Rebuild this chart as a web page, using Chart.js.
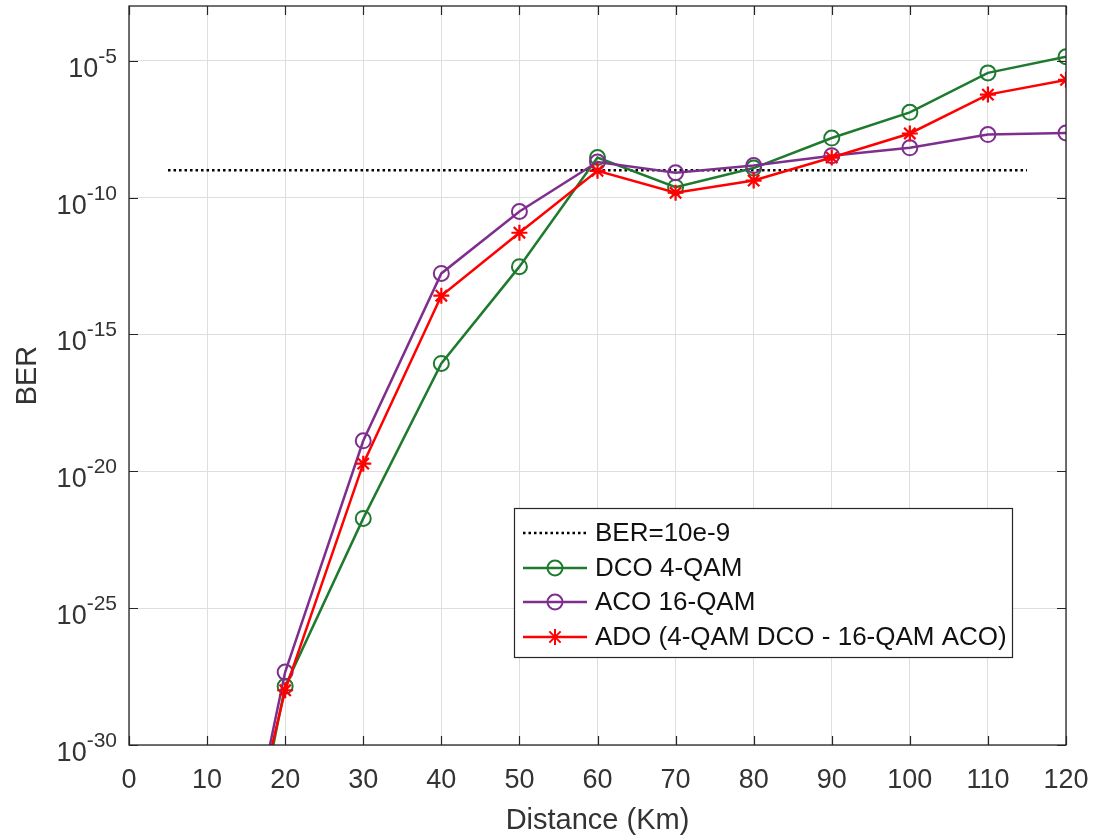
<!DOCTYPE html>
<html><head><meta charset="utf-8">
<script src="https://cdn.jsdelivr.net/npm/chart.js@4.4.1/dist/chart.umd.min.js"></script>
<style>html,body{margin:0;padding:0;background:#fff}#wrap{width:1094px;height:838px}</style>
</head><body><div id="wrap"><canvas id="c" width="1094" height="838"></canvas></div>
<script>
// ---- data ----
const distances = [10, 20, 30, 40, 50, 60, 70, 80, 90, 100, 110, 120];
const berDCO4QAM = [1e-42, 1.4e-28, 1.9e-22, 8.7e-17, 3.0e-13, 2.9e-9, 2.4e-10, 1.2e-9, 1.5e-8, 1.3e-7, 3.6e-6, 1.4e-5];
const berACO16QAM = [1e-41, 4.6e-28, 1.3e-19, 1.7e-13, 3.1e-11, 2.0e-9, 8.1e-10, 1.5e-9, 3.4e-9, 6.6e-9, 2.0e-8, 2.3e-8];
const berADO = [1e-40, 1.0e-28, 1.9e-20, 2.6e-14, 5.2e-12, 9.5e-10, 1.5e-10, 4.2e-10, 2.9e-9, 2.2e-8, 5.8e-7, 2.0e-6];
const thresholdX = [5, 115];
const thresholdBER = [1e-9, 1e-9];
const xTicks = [0, 10, 20, 30, 40, 50, 60, 70, 80, 90, 100, 110, 120];
const yTickExponents = [-30, -25, -20, -15, -10, -5];
const seriesLabels = ['BER=10e-9', 'DCO 4-QAM', 'ACO 16-QAM', 'ADO (4-QAM DCO - 16-QAM ACO)'];

const FAM = '"Liberation Sans", Arial, Helvetica, sans-serif';
const GREEN = '#1e7a2e', PURPLE = '#7e2f8e', RED = '#ff0000', TXT = '#333333';
const pts = (xs, ys) => xs.map((x, i) => ({x: x, y: ys[i]}));

const frame = {
  id: 'frame',
  afterDraw(chart) {
    const {ctx, chartArea: a, scales: {x, y}} = chart;
    ctx.save();
    // box
    ctx.strokeStyle = '#262626'; ctx.lineWidth = 1.3;
    ctx.strokeRect(a.left, a.top, a.right - a.left, a.bottom - a.top);
    // inward ticks
    const tl = 9;
    ctx.lineWidth = 1.2;
    ctx.beginPath();
    xTicks.forEach(v => {
      const px = Math.round(x.getPixelForValue(v)) + 0.5;
      ctx.moveTo(px, a.bottom); ctx.lineTo(px, a.bottom - tl);
      ctx.moveTo(px, a.top); ctx.lineTo(px, a.top + tl);
    });
    yTickExponents.forEach(e => {
      const py = Math.round(y.getPixelForValue(Math.pow(10, e))) + 0.5;
      ctx.moveTo(a.left, py); ctx.lineTo(a.left + tl, py);
      ctx.moveTo(a.right, py); ctx.lineTo(a.right - tl, py);
    });
    ctx.stroke();
    // y tick labels 10^e
    ctx.fillStyle = TXT;
    ctx.textBaseline = 'alphabetic';
    yTickExponents.forEach(e => {
      const py = y.getPixelForValue(Math.pow(10, e));
      const exp = String(e);
      ctx.font = '21px ' + FAM;
      const ew = ctx.measureText(exp).width;
      ctx.font = '27px ' + FAM;
      const bw = ctx.measureText('10').width;
      const right = 117;
      ctx.fillText('10', right - ew - bw, py + 16);
      ctx.font = '21px ' + FAM;
      ctx.fillText(exp, right - ew, py + 2);
    });
    // legend
    const L = {x: 514, y: 508, w: 498, h: 149};
    ctx.fillStyle = '#ffffff';
    ctx.fillRect(L.x, L.y, L.w, L.h);
    ctx.strokeStyle = '#262626'; ctx.lineWidth = 1.2;
    ctx.strokeRect(L.x + 0.5, L.y + 0.5, L.w, L.h);
    const rows = [533, 568, 602, 637];
    const cols = [null, GREEN, PURPLE, RED];
    rows.forEach((ry, i) => {
      ctx.save();
      if (i === 0) {
        ctx.strokeStyle = '#000'; ctx.lineWidth = 2.5; ctx.setLineDash([2.5, 3]);
      } else {
        ctx.strokeStyle = cols[i]; ctx.lineWidth = 2.5;
      }
      ctx.beginPath(); ctx.moveTo(523, ry); ctx.lineTo(587, ry); ctx.stroke();
      ctx.setLineDash([]);
      ctx.lineWidth = 2;
      if (i === 1 || i === 2) {
        ctx.beginPath(); ctx.arc(555, ry, 7.5, 0, Math.PI * 2); ctx.stroke();
      } else if (i === 3) {
        ctx.beginPath();
        for (let k = 0; k < 4; k++) {
          const ang = k * Math.PI / 4;
          ctx.moveTo(555 + 8 * Math.cos(ang), ry + 8 * Math.sin(ang));
          ctx.lineTo(555 - 8 * Math.cos(ang), ry - 8 * Math.sin(ang));
        }
        ctx.stroke();
      }
      ctx.restore();
      ctx.fillStyle = '#111';
      ctx.font = '26px ' + FAM;
      ctx.textBaseline = 'middle';
      ctx.fillText(seriesLabels[i], 595, ry + 1);
    });
    ctx.restore();
  }
};

new Chart(document.getElementById('c'), {
  type: 'line',
  data: {
    datasets: [
      {label: seriesLabels[0], data: pts(thresholdX, thresholdBER), borderColor: '#000', borderWidth: 2.5,
       borderDash: [2.5, 3], pointRadius: 0, order: 3},
      {label: seriesLabels[1], data: pts(distances, berDCO4QAM), borderColor: GREEN, borderWidth: 2.5,
       pointStyle: 'circle', pointRadius: 7.5, pointBorderWidth: 2, pointBorderColor: GREEN,
       pointBackgroundColor: 'rgba(0,0,0,0)', order: 2},
      {label: seriesLabels[2], data: pts(distances, berACO16QAM), borderColor: PURPLE, borderWidth: 2.5,
       pointStyle: 'circle', pointRadius: 7.5, pointBorderWidth: 2, pointBorderColor: PURPLE,
       pointBackgroundColor: 'rgba(0,0,0,0)', order: 1},
      {label: seriesLabels[3], data: pts(distances, berADO), borderColor: RED, borderWidth: 2.5,
       pointStyle: 'star', pointRadius: 8, pointBorderWidth: 2.2, pointBorderColor: RED,
       pointBackgroundColor: RED, order: 0}
    ]
  },
  options: {
    responsive: false,
    animation: false,
    layout: {autoPadding: false, padding: {top: 6, right: 28, left: 0, bottom: 0}},
    plugins: {legend: {display: false}, tooltip: {enabled: false}},
    scales: {
      x: {
        type: 'linear', min: 0, max: 120,
        afterBuildTicks: s => { s.ticks = xTicks.map(v => ({value: v})); },
        ticks: {font: {size: 27, family: FAM}, color: TXT, padding: 19, maxRotation: 0, autoSkip: false},
        grid: {color: '#dedede', lineWidth: 1, drawTicks: false},
        border: {display: false},
        title: {display: true, text: 'Distance (Km)', font: {size: 29, family: FAM}, color: TXT, padding: {top: 0, bottom: 0}},
        afterFit: s => { s.height = 93; s.paddingLeft = 0; s.paddingRight = 0; }
      },
      y: {
        type: 'logarithmic', min: 1e-30, max: 1e-3,
        afterBuildTicks: s => { s.ticks = yTickExponents.map(e => ({value: Math.pow(10, e)})); },
        ticks: {callback: () => '', autoSkip: false, padding: 0, font: {size: 1}},
        grid: {color: '#dedede', lineWidth: 1, drawTicks: false},
        border: {display: false},
        title: {display: true, text: 'BER', font: {size: 29, family: FAM}, color: TXT, padding: {top: 11, bottom: 0}},
        afterFit: s => { s.width = 129; s.paddingTop = 0; s.paddingBottom = 0; }
      }
    }
  },
  plugins: [frame]
});
</script></body></html>
